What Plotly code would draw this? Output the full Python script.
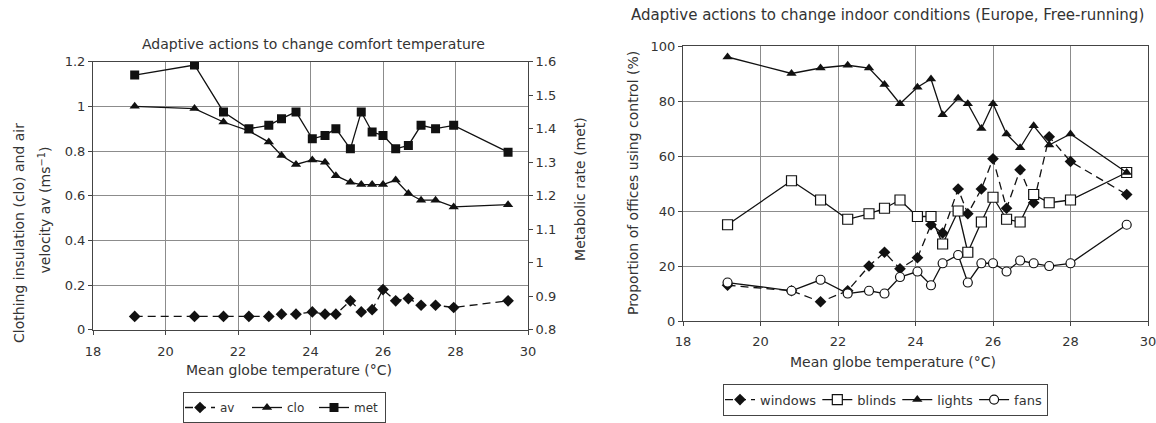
import plotly.graph_objects as go

# ---- Left panel: comfort-temperature adaptive actions ----
temp_left = [19.15, 20.8, 21.6, 22.3, 22.85, 23.2, 23.6, 24.05, 24.4, 24.7,
             25.1, 25.4, 25.7, 26.0, 26.35, 26.7, 27.05, 27.45, 27.95, 29.45]
av = [0.06, 0.06, 0.06, 0.06, 0.06, 0.07, 0.07, 0.08, 0.07, 0.07,
      0.13, 0.08, 0.09, 0.18, 0.13, 0.14, 0.11, 0.11, 0.10, 0.13]
clo = [1.00, 0.99, 0.93, 0.89, 0.84, 0.78, 0.74, 0.76, 0.75, 0.69,
       0.66, 0.65, 0.65, 0.65, 0.67, 0.61, 0.58, 0.58, 0.55, 0.56]
met = [1.56, 1.59, 1.45, 1.40, 1.41, 1.43, 1.45, 1.37, 1.38, 1.40,
       1.34, 1.45, 1.39, 1.38, 1.34, 1.35, 1.41, 1.40, 1.41, 1.33]

# ---- Right panel: indoor-condition controls (Europe, free-running) ----
temp_right = [19.15, 20.8, 21.55, 22.25, 22.8, 23.2, 23.6, 24.05, 24.4, 24.7,
              25.1, 25.35, 25.7, 26.0, 26.35, 26.7, 27.05, 27.45, 28.0, 29.45]
windows = [13, 11, 7, 11, 20, 25, 19, 23, 35, 32, 48, 39, 48, 59, 41, 55, 43, 67, 58, 46]
blinds = [35, 51, 44, 37, 39, 41, 44, 38, 38, 28, 40, 25, 36, 45, 37, 36, 46, 43, 44, 54]
lights = [96, 90, 92, 93, 92, 86, 79, 85, 88, 75, 81, 79, 70, 79, 68, 63, 71, 64, 68, 54]
fans = [14, 11, 15, 10, 11, 10, 16, 18, 13, 21, 24, 14, 21, 21, 18, 22, 21, 20, 21, 35]

W, H = 1156, 423
FONT = "DejaVu Sans, Liberation Sans, Arial, sans-serif"
TXT = "#333333"
INK = "#111111"
GRID = "#8c8c8c"


def px_x(p):
    return p / W


def px_y(p):
    return 1 - p / H


fig = go.Figure()

# left panel traces
fig.add_trace(go.Scatter(x=temp_left, y=av, name="av", mode="lines+markers",
                         line=dict(color=INK, width=1.3, dash="8px,5px"),
                         marker=dict(symbol="diamond", size=9, color=INK),
                         xaxis="x", yaxis="y", legend="legend"))
fig.add_trace(go.Scatter(x=temp_left, y=clo, name="clo", mode="lines+markers",
                         line=dict(color=INK, width=1.3),
                         marker=dict(symbol="triangle-up", size=9, color=INK),
                         xaxis="x", yaxis="y", legend="legend"))
fig.add_trace(go.Scatter(x=temp_left, y=met, name="met", mode="lines+markers",
                         line=dict(color=INK, width=1.3),
                         marker=dict(symbol="square", size=9, color=INK),
                         xaxis="x", yaxis="y2", legend="legend"))

# right panel traces
fig.add_trace(go.Scatter(x=temp_right, y=windows, name="windows", mode="lines+markers",
                         line=dict(color=INK, width=1.3, dash="8px,5px"),
                         marker=dict(symbol="diamond", size=9, color=INK),
                         xaxis="x2", yaxis="y3", legend="legend2"))
fig.add_trace(go.Scatter(x=temp_right, y=blinds, name="blinds", mode="lines+markers",
                         line=dict(color=INK, width=1.3),
                         marker=dict(symbol="square", size=10, color="white",
                                     line=dict(color=INK, width=1.2)),
                         xaxis="x2", yaxis="y3", legend="legend2"))
fig.add_trace(go.Scatter(x=temp_right, y=lights, name="lights", mode="lines+markers",
                         line=dict(color=INK, width=1.3),
                         marker=dict(symbol="triangle-up", size=9, color=INK),
                         xaxis="x2", yaxis="y3", legend="legend2"))
fig.add_trace(go.Scatter(x=temp_right, y=fans, name="fans", mode="lines+markers",
                         line=dict(color=INK, width=1.3),
                         marker=dict(symbol="circle", size=9, color="white",
                                     line=dict(color=INK, width=1.2)),
                         xaxis="x2", yaxis="y3", legend="legend2"))

axis_common = dict(
    showline=True, linecolor="#444444", linewidth=1,
    ticks="outside", ticklen=4, tickcolor="#444444", tickwidth=1,
    tickfont=dict(family=FONT, size=13, color=TXT),
    zeroline=False, gridcolor=GRID, gridwidth=1,
    ticklabeloverflow="allow",
)

legend_common = dict(
    orientation="h", xanchor="left", yanchor="top",
    bordercolor="#444444", borderwidth=1, bgcolor="white",
    itemwidth=30, tracegroupgap=0, indentation=-4,
)

fig.update_layout(
    template="none",
    width=W, height=H,
    margin=dict(l=0, r=0, t=0, b=0),
    paper_bgcolor="white", plot_bgcolor="white",
    font=dict(family=FONT, size=13, color=TXT),
    xaxis=dict(axis_common, domain=[px_x(93), px_x(528)], range=[18, 30], dtick=2,
               anchor="y", mirror=True, showgrid=True, ticklabelstandoff=6),
    yaxis=dict(axis_common, domain=[px_y(337), px_y(63)], range=[0, 1.2], dtick=0.2,
               anchor="x", showgrid=True),
    yaxis2=dict(axis_common, range=[0.8, 1.6], dtick=0.1, anchor="x",
                overlaying="y", side="right", showgrid=False),
    xaxis2=dict(axis_common, domain=[px_x(683), px_x(1148)], range=[18, 30], dtick=2,
                anchor="y3", mirror=True, showgrid=True, ticklabelstandoff=4),
    yaxis3=dict(axis_common, domain=[px_y(328), px_y(47)], range=[0, 100], dtick=20,
                anchor="x2", mirror=True, showgrid=True),
    legend=dict(legend_common, x=px_x(183), y=px_y(401), entrywidth=26,
                font=dict(family=FONT, size=12, color=TXT)),
    legend2=dict(legend_common, x=px_x(723), y=px_y(392),
                 font=dict(family=FONT, size=13, color=TXT)),
    showlegend=True,
)


def label(text, xp, yp, size=14, angle=0):
    return dict(text=text, x=px_x(xp), y=px_y(yp), xref="paper", yref="paper",
                xanchor="center", yanchor="middle", textangle=angle,
                showarrow=False, font=dict(family=FONT, size=size, color=TXT))


annotations = [
    label("Adaptive actions to change comfort temperature", 313, 45, 14),
    label("Adaptive actions to change indoor conditions (Europe, Free-running)", 887, 15, 15),
    label("Mean globe temperature (°C)", 289, 378, 14),
    label("Mean globe temperature (°C)", 893, 370, 14),
    label("Clothing insulation (clo) and air", 19, 238, 14, -90),
    label("velocity av (ms<sup>−1</sup>)", 45, 215, 14, -90),
    label("Metabolic rate (met)", 580, 193, 14, -90),
    label("Proportion of offices using control (%)", 633, 187, 14, -90),
]
fig.update_layout(annotations=annotations)

fig.write_html("out.html")
